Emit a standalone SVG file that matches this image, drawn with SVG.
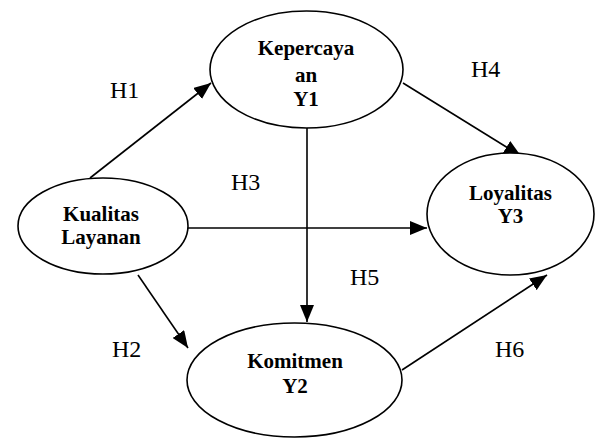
<svg xmlns="http://www.w3.org/2000/svg" width="600" height="441" viewBox="0 0 600 441">
<defs>
<style>
.node{fill:#fff;stroke:#000;stroke-width:1.6}
.nt{font-weight:bold;font-size:21px;text-anchor:middle;fill:#000}
.hl{font-size:24px;fill:#000}
.edge{stroke:#000;stroke-width:1.6;fill:none;marker-end:url(#ah)}
</style>
<marker id="ah" markerUnits="userSpaceOnUse" markerWidth="18" markerHeight="14" refX="17" refY="7" orient="auto">
<path d="M0,0 L17,7 L0,14 Z" fill="#000"/>
</marker>
</defs>
<rect width="600" height="441" fill="#fff"/>
<g id="connectors">
<line class="edge" x1="90" y1="178" x2="211" y2="83"/>
<line class="edge" x1="188" y1="228" x2="427" y2="228"/>
<line class="edge" x1="307" y1="128" x2="307" y2="322"/>
<line class="edge" x1="138" y1="275" x2="188" y2="348"/>
<line class="edge" x1="403" y1="83" x2="521" y2="156"/>
<line class="edge" x1="402" y1="370" x2="547" y2="275"/>
</g>
<g font-family="'Liberation Serif', 'Times New Roman', Times, serif">
<g id="kepercayaan">
<ellipse class="node" cx="306.5" cy="69.5" rx="96.5" ry="58.5"/>
<text class="nt" x="306" y="55">Kepercaya</text>
<text class="nt" x="306" y="82">an</text>
<text class="nt" x="306" y="106">Y1</text>
</g>
<g id="kualitas">
<ellipse class="node" cx="103" cy="226" rx="85" ry="48"/>
<text class="nt" x="101" y="221">Kualitas</text>
<text class="nt" x="101" y="244">Layanan</text>
</g>
<g id="loyalitas">
<ellipse class="node" cx="510.5" cy="214" rx="83.5" ry="61"/>
<text class="nt" x="510.5" y="200">Loyalitas</text>
<text class="nt" x="510.5" y="223">Y3</text>
</g>
<g id="komitmen">
<ellipse class="node" cx="294.5" cy="380" rx="107.5" ry="57"/>
<text class="nt" x="295" y="368">Komitmen</text>
<text class="nt" x="295" y="393">Y2</text>
</g>
<g id="labels">
<text class="hl" x="110" y="98">H1</text>
<text class="hl" x="112" y="357">H2</text>
<text class="hl" x="231" y="190">H3</text>
<text class="hl" x="471" y="77">H4</text>
<text class="hl" x="350" y="285">H5</text>
<text class="hl" x="495" y="357">H6</text>
</g>
</g>
</svg>
